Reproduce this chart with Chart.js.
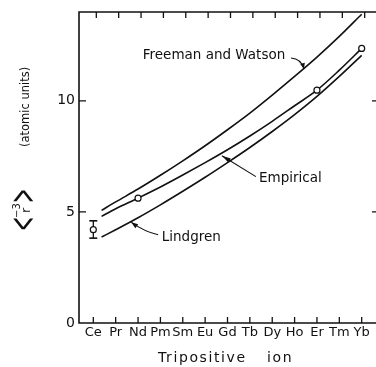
<!DOCTYPE html>
<html>
<head>
<meta charset="utf-8">
<script src="https://cdn.jsdelivr.net/npm/chart.js@4/dist/chart.umd.min.js"></script>
<style>
    html, body { margin: 0; padding: 0; background: #fff; }
    #chartBox { width: 376px; height: 367px; }
</style>
</head>
<body>
<div id="chartBox"><canvas id="rCubeChart" width="376" height="367"></canvas></div>
<script>
// Tripositive rare-earth ions along the x axis
const ions = ['Ce', 'Pr', 'Nd', 'Pm', 'Sm', 'Eu', 'Gd', 'Tb', 'Dy', 'Ho', 'Er', 'Tm', 'Yb'];
const yTicks = [0, 5, 10];

// Curves sampled at ion positions (first point sits a bit right of Ce)
const curveX = [0.37, 1, 2, 3, 4, 5, 6, 7, 8, 9, 10, 11, 12];
const freemanWatson = [5.07, 5.45, 6.03, 6.65, 7.30, 7.98, 8.70, 9.45, 10.26, 11.10, 11.97, 12.90, 13.90];
const empirical = [4.80, 5.14, 5.62, 6.12, 6.66, 7.22, 7.80, 8.42, 9.08, 9.78, 10.48, 11.38, 12.36];
const lindgren = [3.87, 4.20, 4.74, 5.32, 5.93, 6.56, 7.22, 7.90, 8.62, 9.38, 10.20, 11.10, 12.05];

// Measured points (open circles) and the Ce error bar
const measuredX = [0, 2, 10, 12];
const measuredY = [4.20, 5.62, 10.48, 12.36];
const ceErrorX = [0, 0];
const ceErrorY = [3.82, 4.60];

const INK = '#111';
const FONT = '"DejaVu Sans", sans-serif';

function toPoints(xs, ys) {
    return xs.map((x, i) => ({ x: x, y: ys[i] }));
}

function curve(label, ys) {
    return {
        label: label,
        data: toPoints(curveX, ys),
        borderColor: INK,
        borderWidth: 1.6,
        pointRadius: 0,
        cubicInterpolationMode: 'monotone',
        fill: false
    };
}

// Draw a line with a small filled head at its end
function drawArrow(ctx, pts, head) {
    ctx.beginPath();
    ctx.moveTo(pts[0][0], pts[0][1]);
    if (pts.length === 3) {
        ctx.quadraticCurveTo(pts[1][0], pts[1][1], pts[2][0], pts[2][1]);
    } else {
        ctx.lineTo(pts[1][0], pts[1][1]);
    }
    ctx.stroke();
    const tip = pts[pts.length - 1];
    const prev = pts[pts.length - 2];
    const ang = Math.atan2(tip[1] - prev[1], tip[0] - prev[0]);
    ctx.beginPath();
    ctx.moveTo(tip[0], tip[1]);
    ctx.lineTo(tip[0] - head * Math.cos(ang) + 2.4 * Math.sin(ang), tip[1] - head * Math.sin(ang) - 2.4 * Math.cos(ang));
    ctx.lineTo(tip[0] - head * Math.cos(ang) - 2.4 * Math.sin(ang), tip[1] - head * Math.sin(ang) + 2.4 * Math.cos(ang));
    ctx.closePath();
    ctx.fill();
}

// Chevron-shaped bracket glyph, stretched to the tall look of the original
function drawBracket(ctx, ch, x) {
    ctx.save();
    ctx.translate(x, 0);
    ctx.scale(0.85, 1.9);
    ctx.font = '20px ' + FONT;
    ctx.textBaseline = 'middle';
    ctx.fillText(ch, 0, -2.6);
    ctx.restore();
}

// Frame, inward ticks, curve labels and axis titles
const decorations = {
    id: 'decorations',
    afterDraw(chart) {
        const ctx = chart.ctx;
        const area = chart.chartArea;
        const xs = chart.scales.x;
        const ys = chart.scales.y;
        const px = v => xs.getPixelForValue(v);
        const py = v => ys.getPixelForValue(v);

        ctx.save();
        ctx.strokeStyle = INK;
        ctx.fillStyle = INK;
        ctx.lineWidth = 1.6;

        // frame: left, bottom, top
        ctx.beginPath();
        ctx.moveTo(area.right, area.top);
        ctx.lineTo(area.left, area.top);
        ctx.lineTo(area.left, area.bottom);
        ctx.lineTo(area.right, area.bottom);
        ctx.stroke();

        // inward tick marks
        ctx.lineWidth = 1.3;
        ctx.beginPath();
        ions.forEach((_, i) => {
            const x = px(i);
            ctx.moveTo(x, area.bottom);
            ctx.lineTo(x, area.bottom - 6);
            ctx.moveTo(x + 3, area.top);
            ctx.lineTo(x + 3, area.top + 6);
        });
        yTicks.forEach(v => {
            if (v === 0) return;
            const y = py(v);
            ctx.moveTo(area.left, y);
            ctx.lineTo(area.left + 7, y);
            ctx.moveTo(area.right - 4, y);
            ctx.lineTo(area.right, y);
        });
        ctx.stroke();

        // curve labels
        ctx.font = '13.5px ' + FONT;
        ctx.textBaseline = 'middle';
        ctx.textAlign = 'left';
        ctx.fillText('Freeman and Watson', px(2.21), py(12.06));
        ctx.fillText('Empirical', px(7.41), py(6.50));
        ctx.fillText('Lindgren', px(3.06), py(3.87));

        ctx.lineWidth = 1.1;
        drawArrow(ctx, [[px(8.84), py(11.93)], [px(9.30), py(11.90)], [px(9.42), py(11.43)]], 6);
        drawArrow(ctx, [[px(7.27), py(6.59)], [px(5.75), py(7.53)]], 9);
        drawArrow(ctx, [[px(2.90), py(3.97)], [px(2.30), py(4.10)], [px(1.69), py(4.54)]], 7);

        // x axis title, spaced lettering
        ctx.font = '14px ' + FONT;
        ctx.letterSpacing = '1.6px';
        ctx.textBaseline = 'alphabetic';
        ctx.fillText('Tripositive', 158, 362);
        ctx.fillText('ion', 267, 362);
        ctx.letterSpacing = '0px';

        // y axis title, rotated
        ctx.translate(30, 231);
        ctx.rotate(-Math.PI / 2);
        drawBracket(ctx, '<', 0);
        drawBracket(ctx, '>', 28);
        ctx.textBaseline = 'alphabetic';
        ctx.font = '13px ' + FONT;
        ctx.fillText('r', 18, 0);
        ctx.font = '10px ' + FONT;
        ctx.fillText('\u22123', 13, -10);
        ctx.font = '11.5px ' + FONT;
        ctx.fillText('(atomic units)', 84, -1);
        ctx.restore();
    }
};

new Chart(document.getElementById('rCubeChart'), {
    type: 'line',
    data: {
        datasets: [
            {
                label: 'Measured',
                data: toPoints(measuredX, measuredY),
                showLine: false,
                pointRadius: 3,
                pointBackgroundColor: '#fff',
                pointBorderColor: INK,
                pointBorderWidth: 1.2
            },
            {
                label: 'Ce error',
                data: toPoints(ceErrorX, ceErrorY),
                showLine: true,
                borderColor: INK,
                borderWidth: 1.3,
                pointStyle: 'line',
                pointRadius: 4,
                pointBorderColor: INK,
                pointBorderWidth: 1.6
            },
            curve('Freeman and Watson', freemanWatson),
            curve('Empirical', empirical),
            curve('Lindgren', lindgren)
        ]
    },
    options: {
        responsive: false,
        animation: false,
        layout: { autoPadding: false, padding: { top: 12, left: 0, right: 0, bottom: 0 } },
        scales: {
            x: {
                type: 'linear',
                min: -0.64,
                max: 12.64,
                afterBuildTicks: scale => { scale.ticks = ions.map((_, i) => ({ value: i })); },
                afterFit: scale => {
                    scale.height = 44;
                    scale.paddingLeft = 0;
                    scale.paddingRight = 0;
                },
                grid: { display: false, drawTicks: false },
                border: { display: false },
                ticks: {
                    padding: 2,
                    color: INK,
                    maxRotation: 0,
                    autoSkip: false,
                    font: { family: FONT, size: 13 },
                    callback: v => ions[v]
                }
            },
            y: {
                min: 0,
                max: 14,
                afterBuildTicks: scale => { scale.ticks = yTicks.map(v => ({ value: v })); },
                afterFit: scale => {
                    scale.width = 79;
                    scale.paddingTop = 0;
                    scale.paddingBottom = 0;
                },
                grid: { display: false, drawTicks: false },
                border: { display: false },
                ticks: {
                    padding: 4,
                    color: INK,
                    font: { family: FONT, size: 14 }
                }
            }
        },
        plugins: {
            legend: { display: false },
            tooltip: { enabled: false }
        }
    },
    plugins: [decorations]
});
</script>
</body>
</html>
